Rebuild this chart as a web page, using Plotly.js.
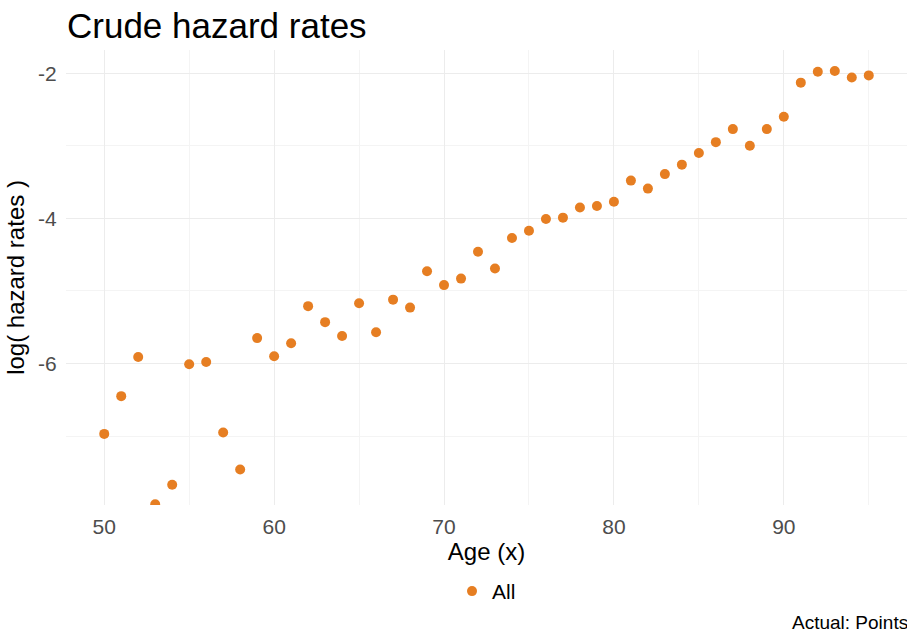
<!DOCTYPE html>
<html>
<head>
<meta charset="utf-8">
<script src="https://cdn.plot.ly/plotly-3.0.1.min.js"></script>
<style>html,body{margin:0;padding:0;background:#fff;}#chart{width:907px;height:635px;}</style>
</head>
<body>
<div id="chart"></div>
<script>
const ages = [50,51,52,53,54,55,56,57,58,59,60,61,62,63,64,65,66,67,68,69,70,71,72,73,74,75,76,77,78,79,80,81,82,83,84,85,86,87,88,89,90,91,92,93,94,95];
const logHazard = [-6.97,-6.45,-5.91,-7.94,-7.67,-6.01,-5.98,-6.95,-7.46,-5.65,-5.90,-5.72,-5.21,-5.43,-5.62,-5.17,-5.57,-5.12,-5.23,-4.73,-4.92,-4.83,-4.46,-4.69,-4.27,-4.17,-4.01,-3.99,-3.85,-3.83,-3.77,-3.48,-3.59,-3.39,-3.26,-3.10,-2.95,-2.77,-3.00,-2.77,-2.60,-2.13,-1.98,-1.97,-2.06,-2.03];
const seriesName = "All";
const xTicks = [50,60,70,80,90];
const yTicks = [-2,-4,-6];

const trace = {
  x: ages, y: logHazard, type: 'scatter', mode: 'markers', name: seriesName,
  marker: {color: '#E67E22', size: 10},
  showlegend: true
};

const grid = '#ececec';
const layout = {
  width: 907, height: 635,
  paper_bgcolor: '#ffffff', plot_bgcolor: '#ffffff',
  margin: {l: 66, r: 0, t: 50, b: 130},
  font: {family: 'Liberation Sans, Arial, sans-serif', color: '#000'},
  title: {text: 'Crude hazard rates', font: {size: 35, color: '#000'},
          x: 67/907, xref: 'container', xanchor: 'left', y: 1 - 26/635, yref: 'container', yanchor: 'middle'},
  xaxis: {
    range: [47.75, 97.25], tickvals: xTicks, ticktext: xTicks.map(String),
    showgrid: true, gridcolor: grid, gridwidth: 1, zeroline: false, showline: false,
    ticks: 'outside', ticklen: 3, tickcolor: 'rgba(0,0,0,0)',
    tickfont: {size: 21, color: '#4d4d4d'},
    minor: {tickvals: [55,65,75,85,95], showgrid: true, gridcolor: '#f4f4f4', gridwidth: 1},
    title: {text: 'Age (x)', font: {size: 24, color: '#000'}, standoff: 2}
  },
  yaxis: {
    range: [-7.95, -1.68], tickvals: yTicks, ticktext: yTicks.map(String),
    showgrid: true, gridcolor: grid, gridwidth: 1, zeroline: false, showline: false,
    ticks: 'outside', ticklen: 4, tickcolor: 'rgba(0,0,0,0)',
    tickfont: {size: 21, color: '#4d4d4d'},
    minor: {tickvals: [-3,-5,-7], showgrid: true, gridcolor: '#f4f4f4', gridwidth: 1},
    title: {text: 'log( hazard rates )', font: {size: 24, color: '#000'}, standoff: 6}
  },
  legend: {orientation: 'h', x: 0.5, xanchor: 'center', y: -0.19, yanchor: 'middle',
           font: {size: 21, color: '#000'}, bgcolor: 'rgba(0,0,0,0)', itemwidth: 30},
  annotations: [{text: 'Actual: Points', xref: 'paper', yref: 'paper', x: 1.004, y: -0.258,
                 xanchor: 'right', yanchor: 'middle', showarrow: false, font: {size: 19, color: '#000'}}]
};

Plotly.newPlot('chart', [trace], layout, {displayModeBar: false, staticPlot: true});
</script>
</body>
</html>
